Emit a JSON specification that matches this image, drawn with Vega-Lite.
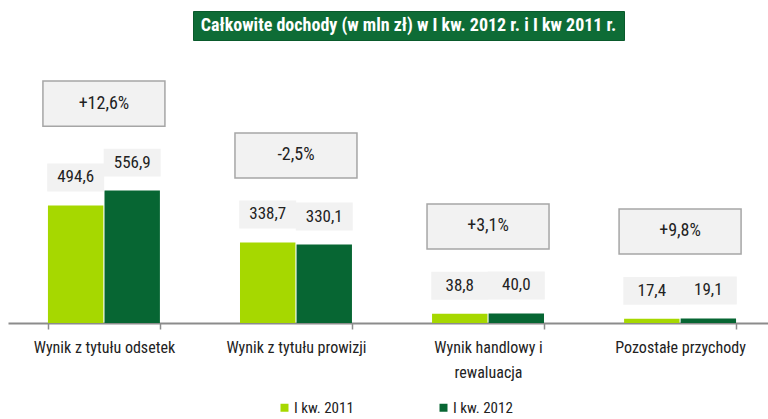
{
  "$schema": "https://vega.github.io/schema/vega-lite/v6.json",
  "padding": {"left": 8, "top": 10, "right": 0, "bottom": 0},
  "background": "white",
  "config": {
    "font": "Liberation Sans Narrow, Roboto Condensed, DejaVu Sans Condensed, Liberation Sans",
    "view": {"stroke": null},
    "locale": {"number": {"decimal": ",", "thousands": " ", "grouping": [3], "currency": ["", " zł"]}}
  },
  "datasets": {
    "main": [
      {"category": "Wynik z tytułu odsetek", "period": "I kw. 2011", "value": 494.6, "change": "+12,6%"},
      {"category": "Wynik z tytułu odsetek", "period": "I kw. 2012", "value": 556.9, "change": "+12,6%"},
      {"category": "Wynik z tytułu prowizji", "period": "I kw. 2011", "value": 338.7, "change": "-2,5%"},
      {"category": "Wynik z tytułu prowizji", "period": "I kw. 2012", "value": 330.1, "change": "-2,5%"},
      {"category": "Wynik handlowy i rewaluacja", "period": "I kw. 2011", "value": 38.8, "change": "+3,1%"},
      {"category": "Wynik handlowy i rewaluacja", "period": "I kw. 2012", "value": 40.0, "change": "+3,1%"},
      {"category": "Pozostałe przychody", "period": "I kw. 2011", "value": 17.4, "change": "+9,8%"},
      {"category": "Pozostałe przychody", "period": "I kw. 2012", "value": 19.1, "change": "+9,8%"}
    ],
    "banner": [{"t": "Całkowite dochody (w mln zł) w I kw. 2012 r.  i  I  kw 2011 r."}]
  },
  "spacing": 11,
  "center": false,
  "vconcat": [
    {
      "spacing": 0,
      "hconcat": [
        {
          "width": 184,
          "height": 29,
          "data": {"name": "banner"},
          "mark": {"type": "text", "text": " ", "opacity": 0}
        },
        {
          "width": 431,
          "height": 29,
          "view": {"fill": "#0e6c36", "stroke": "#0a5a2c", "strokeWidth": 1},
          "data": {"name": "banner"},
          "mark": {"type": "text", "color": "white", "fontWeight": "bold", "fontSize": 18, "baseline": "middle", "align": "center"},
          "encoding": {"text": {"field": "t"}}
        }
      ]
    },
    {
      "width": 768,
      "height": 271,
      "data": {"name": "main"},
      "layer": [
        {
          "mark": {"type": "bar"},
          "encoding": {
            "x": {"field": "category", "type": "nominal", "sort": null,
              "scale": {"paddingInner": 0.417, "paddingOuter": 0.208},
              "axis": {"title": null, "labelAngle": 0, "labelFontSize": 16, "labelColor": "#222222", "labelPadding": 10,
                "tickBand": "extent", "tickSize": 6, "tickColor": "#8c8c8c", "tickWidth": 1.5,
                "domainColor": "#8c8c8c", "domainWidth": 2, "labelLineHeight": 25, "labelLimit": 0,
                "labelExpr": "datum.value == 'Wynik handlowy i rewaluacja' ? ['Wynik handlowy i', 'rewaluacja'] : datum.value"}},
            "xOffset": {"field": "period", "type": "nominal", "scale": {"paddingInner": 0.02}},
            "y": {"field": "value", "type": "quantitative", "scale": {"domain": [0, 1140], "nice": false, "zero": true}, "axis": null},
            "color": {"field": "period", "type": "nominal",
              "scale": {"domain": ["I kw. 2011", "I kw. 2012"], "range": ["#a6d800", "#076633"]},
              "legend": {"orient": "none", "legendX": 269, "legendY": 389, "direction": "horizontal", "title": null,
                "symbolType": "square", "symbolSize": 64, "labelFontSize": 15, "labelColor": "#222222",
                "columnPadding": 82, "padding": 0, "labelOffset": 2}}
          }
        },
        {
          "mark": {"type": "point", "filled": true, "shape": "M-1,-0.49H1V0.49H-1Z", "size": 3249, "fill": "#f2f2f2", "opacity": 1, "yOffset": -28},
          "encoding": {
            "x": {"field": "category", "type": "nominal", "sort": null},
            "xOffset": {"field": "period", "type": "nominal"},
            "y": {"field": "value", "type": "quantitative"}
          }
        },
        {
          "mark": {"type": "text", "fontSize": 17, "color": "#222222", "baseline": "middle", "yOffset": -28},
          "encoding": {
            "x": {"field": "category", "type": "nominal", "sort": null},
            "xOffset": {"field": "period", "type": "nominal"},
            "y": {"field": "value", "type": "quantitative"},
            "text": {"field": "value", "type": "quantitative", "format": ".1f"}
          }
        },
        {
          "transform": [
            {"joinaggregate": [{"op": "max", "field": "value", "as": "maxv"}], "groupby": ["category"]},
            {"filter": "datum.period == 'I kw. 2012'"}
          ],
          "mark": {"type": "point", "filled": true, "shape": "M-1,-0.37H1V0.37H-1Z", "size": 14884, "fill": "#f2f2f2", "stroke": "#a6a6a6", "strokeWidth": 1.5, "opacity": 1, "yOffset": -87},
          "encoding": {
            "x": {"field": "category", "type": "nominal", "sort": null},
            "y": {"field": "maxv", "type": "quantitative"}
          }
        },
        {
          "transform": [
            {"joinaggregate": [{"op": "max", "field": "value", "as": "maxv"}], "groupby": ["category"]},
            {"filter": "datum.period == 'I kw. 2012'"}
          ],
          "mark": {"type": "text", "fontSize": 18, "color": "#222222", "baseline": "middle", "yOffset": -87},
          "encoding": {
            "x": {"field": "category", "type": "nominal", "sort": null},
            "y": {"field": "maxv", "type": "quantitative"},
            "text": {"field": "change"}
          }
        }
      ]
    }
  ]
}
